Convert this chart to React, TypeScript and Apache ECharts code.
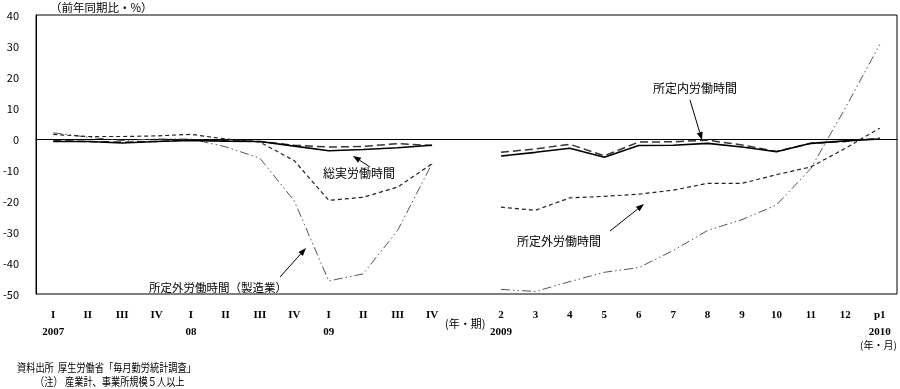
import { useEffect, useRef } from 'react';
import * as echarts from 'echarts';

const quarterTicks = ['I', 'II', 'III', 'IV', 'I', 'II', 'III', 'IV', 'I', 'II', 'III', 'IV'];
const quarterYears = ['2007', '', '', '', '08', '', '', '', '09', '', '', ''];
const monthTicks = ['2', '3', '4', '5', '6', '7', '8', '9', '10', '11', '12', 'p1'];
const monthYears = ['2009', '', '', '', '', '', '', '', '', '', '', '2010'];
const yTicks = { min: -50, max: 40, interval: 10 };

// 総実労働時間
const totalHoursQ = [-0.8, -0.8, -1.3, -0.8, -0.5, -0.7, -0.8, -2.3, -3.8, -3.4, -2.8, -2.0];
const totalHoursM = [-5.5, -4.3, -3.0, -5.9, -2.1, -2.0, -1.4, -2.6, -4.1, -1.4, -0.6, 0.0];
// 所定内労働時間
const scheduledQ = [-0.5, -0.8, -1.0, -0.8, -0.3, -0.5, -0.8, -2.0, -2.6, -2.4, -1.5, -2.1];
const scheduledM = [-4.3, -3.2, -1.7, -5.4, -1.0, -0.9, -0.4, -1.9, -4.0, -1.4, -0.8, 0.3];
// 所定外労働時間
const overtimeQ = [1.5, 0.8, 0.8, 1.0, 1.5, 0.0, -1.0, -7.0, -19.8, -18.8, -15.5, -8.0];
const overtimeM = [-22, -23, -19, -18.5, -17.8, -16.5, -14.3, -14.3, -11.5, -9, -3, 3.5];
// 所定外労働時間（製造業）
const mfgOvertimeQ = [2.0, 0.6, -0.5, 0.0, 0.0, -2.5, -6.2, -20.0, -45.8, -43.5, -29.5, -7.9];
const mfgOvertimeM = [-48.5, -49.2, -46, -43, -41.5, -36, -29.5, -26, -21.3, -9.5, 10, 30.5];

const JP = '"Noto Sans CJK JP", sans-serif';

function arrow(x1: number, y1: number, x2: number, y2: number) {
  const dx = x2 - x1;
  const dy = y2 - y1;
  const len = Math.sqrt(dx * dx + dy * dy);
  const ux = dx / len;
  const uy = dy / len;
  const hl = 8;
  const hw = 3;
  const bx = x2 - ux * hl;
  const by = y2 - uy * hl;
  return [
    { type: 'line', shape: { x1, y1, x2: bx, y2: by }, style: { stroke: '#000', lineWidth: 1 } },
    {
      type: 'polygon',
      shape: { points: [[x2, y2], [bx - uy * hw, by + ux * hw], [bx + uy * hw, by - ux * hw]] },
      style: { fill: '#000' },
    },
  ];
}

function txt(text: string, x: number, y: number, fontSize: number, extra: any = {}) {
  return {
    type: 'text',
    x,
    y,
    ...extra,
    style: { text, fill: '#000', fontSize, fontFamily: JP, verticalAlign: 'middle', align: 'left' },
  };
}

export default function App() {
  const ref = useRef<HTMLDivElement>(null);
  useEffect(() => {
    if (!ref.current) return;
    const chart = echarts.init(ref.current, undefined, { renderer: 'svg' });
    const categories = [
      ...quarterTicks.map((t, i) => t + '\n' + quarterYears[i]),
      '',
      ...monthTicks.map((t, i) => t + '\n' + monthYears[i]),
    ];
    const join = (a: number[], b: number[]) => [...a, null, ...b];
    const mk = (name: string, q: number[], m: number[], color: string, width: number, type: any) => ({
      name,
      type: 'line',
      data: join(q, m),
      symbol: 'none',
      connectNulls: false,
      lineStyle: { color, width, type },
    });
    chart.setOption({
      animation: false,
      grid: { left: 35, right: 3, top: 15, bottom: 95, show: true, borderColor: '#000', borderWidth: 1 },
      xAxis: {
        type: 'category',
        data: categories,
        boundaryGap: true,
        axisLine: { show: true, lineStyle: { color: '#000' } },
        axisTick: { show: false },
        axisLabel: {
          interval: 0,
          margin: 11,
          color: '#000',
          fontSize: 11,
          lineHeight: 17,
          fontFamily: '"Liberation Serif", serif',
          fontWeight: 'bold',
        },
      },
      yAxis: {
        type: 'value',
        min: yTicks.min,
        max: yTicks.max,
        interval: yTicks.interval,
        axisLine: { show: true, lineStyle: { color: '#000' } },
        axisTick: { show: false },
        splitLine: { show: false },
        axisLabel: { color: '#000', fontSize: 11, margin: 17, fontFamily: JP },
      },
      series: [
        mk('所定外労働時間（製造業）', mfgOvertimeQ, mfgOvertimeM, '#555', 1, [9, 3, 1.5, 3, 1.5, 3]),
        mk('所定外労働時間', overtimeQ, overtimeM, '#222', 1.2, [4, 3]),
        mk('所定内労働時間', scheduledQ, scheduledM, '#333', 1.5, [8, 4]),
        mk('総実労働時間', totalHoursQ, totalHoursM, '#000', 1.6, 'solid'),
      ],
      graphic: [
        txt('（前年同期比・%）', 50, 7, 11.5),
        txt('所定内労働時間', 653, 87, 12),
        ...arrow(690, 100, 702, 140),
        txt('総実労働時間', 323, 172, 12),
        ...arrow(370, 167, 353, 156),
        txt('所定外労働時間（製造業）', 149, 287, 11.5),
        ...arrow(280, 277, 306, 248),
        txt('所定外労働時間', 517, 240, 12),
        ...arrow(610, 231, 644, 204),
        txt('(年・期)', 445, 323, 11),
        txt('(年・月)', 860, 344, 10),
        txt('資料出所', 17, 367, 11.5, { scaleX: 0.8 }),
        txt('厚生労働省「毎月勤労統計調査」', 58, 367, 11.5, { scaleX: 0.8 }),
        txt('（注）', 35, 381, 11.5, { scaleX: 0.8 }),
        txt('産業計、事業所規模５人以上', 65, 381, 11.5, { scaleX: 0.8 }),
      ],
    });
    return () => chart.dispose();
  }, []);
  return <div ref={ref} style={{ position: 'fixed', left: 0, top: 0, width: 900, height: 389 }} />;
}
